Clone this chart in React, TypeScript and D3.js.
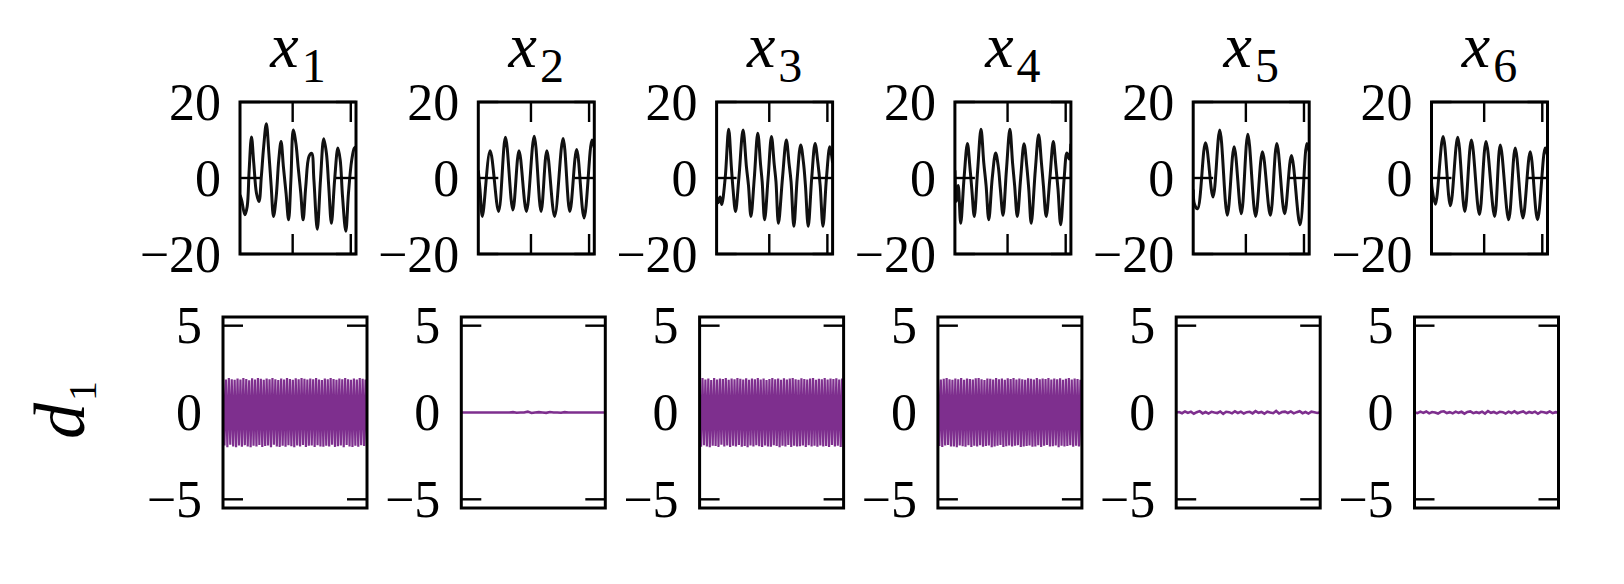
import React from 'react';
import * as d3 from 'd3';

// ---------- data ----------
const panelIds = ['1', '2', '3', '4', '5', '6'];
const topYTicks = [-20, 0, 20];
const topXTicks = [45.4, 95.5];
const bottomYTicks = [-5, 5];
const bottomYLabels = [5, 0, -5];

type P = [number, number];

const x1Series: P[] = [
  [0, -4.5], [1.4, -5.8], [4.2, -9.7], [6.2, -7.5], [7.9, 2.1], [9.9, 10.8], [11.9, 3.8], [14.2, -4.0],
  [16.4, -6.2], [18.4, 0.4], [20.4, 8.2], [22.7, 14.3], [24.9, 6.5], [26.9, -2.2], [28.9, -10.1],
  [31.2, -4.9], [33.4, 4.7], [35.4, 9.6], [37.4, 3.0], [39.7, -4.0], [41.9, -11.0], [43.9, -0.4],
  [45.9, 12.6], [48.2, 9.1], [50.1, 3.0], [52.4, -4.0], [54.4, -11.0], [56.7, -2.2], [59.5, 5.7],
  [61.8, 6.5], [63.7, -0.4], [66.6, -13.5], [69.4, -0.4], [72.2, 10.3], [74.5, 6.5], [76.5, -2.2],
  [78.8, -11.9], [81.6, -0.4], [84.4, 7.9], [86.4, 4.7], [88.4, -4.9], [91.2, -14.0], [93.5, -4.0],
  [96.3, 4.7], [98.6, 7.9], [100, 8.2],
];

const x2Series: P[] = [
  [0, 2], [1.5, -3.1], [3.5, -10.1], [10.2, 7.2], [17.5, -8.8], [23.4, 10.7], [29.8, -8.4], [35.1, 7.2],
  [41.5, -8.8], [48.2, 11.0], [54.1, -8.8], [59.1, 7.2], [65.8, -10.1], [73.1, 10.4], [78.9, -8.8],
  [84.8, 7.5], [91.2, -10.5], [98.0, 10.0], [100, 8.0],
];

const x3Series: P[] = [
  [0, -4.9], [1.5, -6.5], [3.0, -5.0], [4.4, -7.0], [7.4, 0], [10.4, 12.8], [12.7, 3.0], [14.2, -3.0],
  [16.3, -8.8], [19.2, 0], [22.8, 12.6], [25.7, 3.0], [27.5, -2.0], [29.6, -10.1], [32.5, 0],
  [35.5, 11.8], [37.9, 3.5], [39.3, -1.0], [41.4, -11.0], [44.4, 0], [47.3, 10.9], [49.7, 3.5],
  [51.2, -1.0], [53.3, -11.9], [56.8, 0], [60.1, 10.0], [62.4, 4.0], [64.2, -1.0], [66.6, -12.7],
  [69.5, 0], [72.5, 8.7], [74.9, 4.0], [76.6, -2.0], [79.0, -12.7], [82.0, 0], [84.9, 9.1],
  [87.3, 4.0], [89.3, -2.0], [91.7, -12.7], [94.7, 0], [97.6, 8.2], [100, 4.0],
];

const x4Series: P[] = [
  [0, 2.0], [1.2, -6.1], [2.9, -2.0], [5.0, -11.9], [7.9, 0], [10.8, 9.1], [12.9, 3.0], [14.6, -3.0],
  [16.7, -10.1], [19.6, 2.0], [22.5, 12.8], [24.9, 4.0], [26.9, -2.0], [29.2, -11.0], [32.2, 0],
  [35.1, 6.6], [37.4, 3.0], [39.2, -3.0], [41.5, -9.8], [44.4, 2.0], [47.4, 12.8], [49.7, 4.0],
  [51.5, -2.0], [53.8, -10.1], [56.7, 0], [59.6, 9.0], [62.0, 3.0], [63.7, -3.0], [65.8, -11.9],
  [69.3, 2.0], [72.2, 11.4], [74.6, 4.0], [76.3, -2.0], [78.7, -10.1], [81.9, 0], [84.8, 9.6],
  [86.8, 4.0], [88.9, -3.0], [91.2, -12.3], [94.2, 0], [96.5, 6.6], [98.5, 5.0], [100, 9.0],
];

const x5Series: P[] = [
  [0, -3.0], [1.2, -7.0], [3.8, -8.1], [10.6, 9.3], [17.1, -5.0], [22.9, 12.6], [29.4, -9.8],
  [35.3, 8.2], [41.5, -9.4], [47.1, 11.5], [53.8, -10.1], [59.7, 6.9], [66.5, -9.8], [72.1, 9.1],
  [78.8, -9.4], [84.7, 5.9], [92.1, -12.3], [98.0, 9.1], [100, 7.0],
];

const x6Series: P[] = [
  [0, -1.0], [0.6, -3.0], [3.4, -6.9], [10.0, 10.9], [16.3, -7.3], [22.6, 10.7], [28.7, -8.8],
  [34.4, 10.0], [41.3, -9.6], [47.0, 9.6], [54.4, -10.1], [59.3, 8.7], [66.5, -11.0], [72.2, 7.9],
  [78.8, -10.5], [85.1, 6.9], [91.4, -11.0], [98.0, 7.9], [100, 6.0],
];

const d1Series1 = [
  1.95, -1.9, 1.9, -2.0, 1.98, -1.85, 1.92, -1.95, 1.88, -2.0, 1.96, -1.9, 1.9, -1.97, 1.99, -1.88, 1.93, -1.95, 1.86, -2.0,
  1.97, -1.92, 1.9, -1.96, 1.98, -1.87, 1.94, -1.99, 1.89, -1.93, 1.96, -1.9, 1.92, -2.0, 1.99, -1.86, 1.91, -1.95, 1.87, -1.98,
  1.95, -1.91, 1.9, -1.97, 1.98, -1.89, 1.93, -1.94, 1.88, -2.0, 1.97, -1.9, 1.91, -1.96, 1.99, -1.87, 1.94, -1.98, 1.9, -1.92,
  1.96, -1.9, 1.92, -1.99, 1.98, -1.88, 1.9, -1.95, 1.87, -1.97, 1.95, -1.92, 1.91, -1.96, 1.99, -1.86, 1.93, -1.98, 1.89, -1.94,
  1.96, -1.9, 1.92, -2.0, 1.98, -1.87, 1.92, -1.95, 1.88, -1.98, 1.95, -1.91, 1.9, -1.97, 1.99, -1.89, 1.94, -1.93, 1.9, -1.96,
];
const d1Series2 = [
  0, 0, 0, 0, 0, 0, 0, 0, 0, 0, 0, 0, 0, 0, 0.02, -0.01, 0, 0, 0.05, -0.03,
  0, 0.02, 0, -0.02, 0.03, 0, 0, -0.01, 0.02, 0, 0, 0, 0, 0, 0, 0, 0, 0, 0, 0,
];
const d1Series3 = [
  1.92, -1.97, 1.98, -1.88, 1.9, -1.95, 1.96, -2.0, 1.87, -1.91, 1.99, -1.93, 1.9, -1.98, 1.95, -1.86, 1.93, -1.96, 1.98, -1.9,
  1.88, -1.99, 1.96, -1.92, 1.91, -1.95, 1.99, -1.87, 1.94, -1.97, 1.9, -1.93, 1.97, -2.0, 1.89, -1.9, 1.95, -1.96, 1.92, -1.88,
  1.98, -1.94, 1.9, -1.99, 1.96, -1.9, 1.87, -1.95, 1.93, -1.97, 1.99, -1.89, 1.91, -1.93, 1.96, -2.0, 1.88, -1.92, 1.97, -1.95,
  1.9, -1.87, 1.95, -1.98, 1.99, -1.91, 1.92, -1.96, 1.89, -1.94, 1.97, -1.9, 1.93, -1.99, 1.9, -1.88, 1.96, -1.95, 1.98, -1.92,
  1.88, -1.97, 1.94, -1.9, 1.91, -1.96, 1.99, -1.93, 1.9, -1.98, 1.95, -1.87, 1.93, -1.95, 1.97, -1.91, 1.9, -1.99, 1.96, -1.9,
];
const d1Series4 = [
  1.97, -1.93, 1.9, -1.98, 1.94, -1.9, 1.99, -1.87, 1.91, -1.96, 1.88, -1.95, 1.96, -2.0, 1.92, -1.9, 1.98, -1.94, 1.89, -1.97,
  1.95, -1.88, 1.93, -1.99, 1.9, -1.92, 1.97, -1.95, 1.99, -1.89, 1.91, -1.97, 1.87, -1.93, 1.96, -1.9, 1.94, -2.0, 1.9, -1.96,
  1.98, -1.91, 1.92, -1.87, 1.95, -1.98, 1.89, -1.94, 1.97, -1.9, 1.93, -1.96, 1.99, -1.92, 1.9, -1.88, 1.96, -1.99, 1.92, -1.95,
  1.88, -1.93, 1.97, -1.9, 1.94, -1.97, 1.9, -1.95, 1.99, -1.89, 1.91, -1.98, 1.96, -1.92, 1.93, -1.87, 1.98, -1.96, 1.9, -1.94,
  1.95, -1.9, 1.92, -2.0, 1.97, -1.91, 1.89, -1.96, 1.94, -1.93, 1.99, -1.88, 1.9, -1.97, 1.96, -1.92, 1.93, -1.95, 1.88, -1.9,
];
const d1Series5 = [
  0, 0.03, -0.04, 0.06, -0.02, 0.05, -0.07, 0.02, 0.08, -0.05, 0.03, -0.06, 0.04, 0.0, -0.03, 0.06, -0.08, 0.04, 0.02, -0.05,
  0.07, -0.03, 0.05, -0.06, 0.02, 0.04, -0.05, 0.08, -0.02, 0.03, -0.07, 0.05, 0.0, -0.04, 0.09, -0.06, 0.03, 0.05, -0.03, 0.06,
  -0.05, 0.02, 0.07, -0.04, 0.03, -0.06, 0.05, 0.02, -0.03, 0.01,
];
const d1Series6 = [
  0.02, -0.04, 0.05, -0.02, 0.06, -0.05, 0.03, 0.0, -0.06, 0.04, 0.07, -0.03, 0.02, -0.05, 0.05, -0.02, 0.04, -0.07, 0.03, 0.06,
  -0.04, 0.02, -0.03, 0.05, -0.06, 0.08, -0.02, 0.03, -0.05, 0.04, 0.02, -0.06, 0.05, -0.03, 0.07, -0.04, 0.02, 0.06, -0.05, 0.03,
  -0.02, 0.05, -0.07, 0.04, 0.01, -0.03, 0.06, -0.04, 0.02, 0.0,
];

const topSeries = [x1Series, x2Series, x3Series, x4Series, x5Series, x6Series];
const bottomSeries = [d1Series1, d1Series2, d1Series3, d1Series4, d1Series5, d1Series6];

// ---------- layout ----------
const W = 1624;
const H = 584;
const STEP = 238.3;
const TOP = { left0: 240, width: 116, top: 102, height: 152 };
const BOT = { left0: 223, width: 144, top: 317, height: 191 };
const TICK = 20;
const FONT = "'Liberation Serif', 'Times New Roman', serif";
const PURPLE = '#7E2F8E';
const TXT: React.CSSProperties = { fontFamily: FONT };

function fmt(v: number) {
  return v < 0 ? '\u2212' + Math.abs(v) : String(v);
}

export default function App() {
  return (
    <svg
      width={W}
      height={H}
      viewBox={`0 0 ${W} ${H}`}
      style={{ position: 'absolute', left: 0, top: 0, background: '#fff', fontFamily: FONT }}
    >
      <rect x={0} y={0} width={W} height={H} fill="#fff" />
      <defs>
        {panelIds.map((id, i) => {
          const l = TOP.left0 + i * STEP;
          const lb = BOT.left0 + i * STEP;
          return (
            <React.Fragment key={id}>
              <clipPath id={`ct${i}`}>
                <rect x={l} y={TOP.top} width={TOP.width} height={TOP.height} />
              </clipPath>
              <clipPath id={`cb${i}`}>
                <rect x={lb} y={BOT.top} width={BOT.width} height={BOT.height} />
              </clipPath>
            </React.Fragment>
          );
        })}
      </defs>

      {/* top row */}
      {panelIds.map((id, i) => {
        const l = TOP.left0 + i * STEP;
        const r = l + TOP.width;
        const t = TOP.top;
        const b = TOP.top + TOP.height;
        const xs = d3.scaleLinear().domain([0, 100]).range([l, r]);
        const ys = d3.scaleLinear().domain([-20, 20]).range([b, t]);
        const line = d3
          .line<P>()
          .x((d) => xs(d[0]))
          .y((d) => ys(d[1]))
          .curve(d3.curveCatmullRom.alpha(0.5));
        const cx = (l + r) / 2;
        return (
          <g key={`t${id}`}>
            <path
              d={line(topSeries[i]) || ''}
              fill="none"
              stroke="#111"
              strokeWidth={3}
              strokeLinejoin="round"
              clipPath={`url(#ct${i})`}
            />
            {topYTicks.map((v) => (
              <g key={`yt${v}`}>
                <line x1={l} x2={l + TICK} y1={ys(v)} y2={ys(v)} stroke="#000" strokeWidth={2.4} />
                <line x1={r - TICK} x2={r} y1={ys(v)} y2={ys(v)} stroke="#000" strokeWidth={2.4} />
                <text
                  x={l - 19}
                  y={ys(v)}
                  textAnchor="end"
                  dominantBaseline="central"
                  fontSize={52}
                  fill="#000"
                  style={TXT}
                >
                  {fmt(v)}
                </text>
              </g>
            ))}
            {topXTicks.map((v) => (
              <g key={`xt${v}`}>
                <line x1={xs(v)} x2={xs(v)} y1={t} y2={t + TICK} stroke="#000" strokeWidth={2.4} />
                <line x1={xs(v)} x2={xs(v)} y1={b - TICK} y2={b} stroke="#000" strokeWidth={2.4} />
              </g>
            ))}
            <rect x={l} y={t} width={TOP.width} height={TOP.height} fill="none" stroke="#000" strokeWidth={3} />
            <text x={cx} y={67} textAnchor="middle" fill="#000" style={TXT}>
              <tspan fontStyle="italic" fontSize={64}>x</tspan>
              <tspan fontSize={48} dx={3} dy={15}>{id}</tspan>
            </text>
          </g>
        );
      })}

      {/* bottom row */}
      {panelIds.map((id, i) => {
        const l = BOT.left0 + i * STEP;
        const r = l + BOT.width;
        const t = BOT.top;
        const b = BOT.top + BOT.height;
        const data = bottomSeries[i];
        const xs = d3.scaleLinear().domain([0, data.length - 1]).range([l, r]);
        const ys = d3.scaleLinear().domain([-5.5, 5.5]).range([b, t]);
        const line = d3
          .line<number>()
          .x((_, k) => xs(k))
          .y((d) => ys(d));
        const dense = data.length > 60;
        return (
          <g key={`b${id}`}>
            <path
              d={line(data) || ''}
              fill="none"
              stroke={PURPLE}
              strokeWidth={dense ? 2.2 : 2.6}
              clipPath={`url(#cb${i})`}
            />
            {bottomYTicks.map((v) => (
              <g key={`byt${v}`}>
                <line x1={l} x2={l + TICK} y1={ys(v)} y2={ys(v)} stroke="#000" strokeWidth={2.4} />
                <line x1={r - TICK} x2={r} y1={ys(v)} y2={ys(v)} stroke="#000" strokeWidth={2.4} />
              </g>
            ))}
            {bottomYLabels.map((v) => (
              <text
                key={`byl${v}`}
                x={l - 21}
                y={ys(v)}
                textAnchor="end"
                dominantBaseline="central"
                fontSize={52}
                fill="#000"
                style={TXT}
              >
                {fmt(v)}
              </text>
            ))}
            <rect x={l} y={t} width={BOT.width} height={BOT.height} fill="none" stroke="#000" strokeWidth={3} />
          </g>
        );
      })}

      {/* row label */}
      <g transform="translate(84, 410) rotate(-90)">
        <text x={0} y={0} textAnchor="middle" fill="#000" style={TXT}>
          <tspan fontStyle="italic" fontSize={72}>d</tspan>
          <tspan fontSize={40} dx={2} dy={12}>1</tspan>
        </text>
      </g>
    </svg>
  );
}
